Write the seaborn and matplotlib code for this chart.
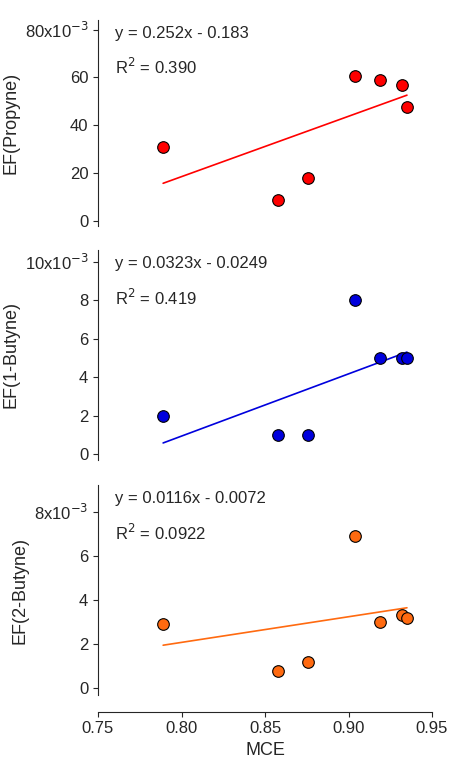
import numpy as np
import seaborn as sns
import matplotlib.pyplot as plt

sns.set_style("ticks")
plt.rcParams['font.family'] = ['Liberation Sans', 'DejaVu Sans']

mce = [0.789, 0.858, 0.876, 0.904, 0.919, 0.932, 0.935]
ef_propyne = [31, 9, 18, 60.5, 59, 57, 47.5]
ef_1butyne = [2, 1, 1, 8, 5, 5, 5]
ef_2butyne = [2.9, 0.8, 1.2, 6.9, 3.0, 3.3, 3.2]
labels = ["EF(Propyne)", "EF(1-Butyne)", "EF(2-Butyne)"]
slopes = [0.252, 0.0323, 0.0116]
intercepts = [-0.183, -0.0249, -0.0072]
eq_text = ["y = 0.252x - 0.183", "y = 0.0323x - 0.0249", "y = 0.0116x - 0.0072"]
r2_text = ["0.390", "0.419", "0.0922"]
colors = ["#ff0000", "#0000dd", "#ff6a10"]
yticks = [[0, 20, 40, 60, 80], [0, 2, 4, 6, 8, 10], [0, 2, 4, 6, 8]]
ylims = [(-2, 84), (-0.3, 10.6), (-0.3, 9.2)]

fig = plt.figure(figsize=(4.49, 7.66), dpi=100)
tops = [20, 250, 485]
bots = [226, 460, 695]
W, H = 449, 766
series = [ef_propyne, ef_1butyne, ef_2butyne]
for i in range(3):
    ax = fig.add_axes([98 / W, 1 - bots[i] / H, (432 - 98) / W, (bots[i] - tops[i]) / H])
    sns.scatterplot(x=mce, y=series[i], ax=ax, color=colors[i], s=70,
                    edgecolor="black", linewidth=0.8, zorder=3, clip_on=False)
    xl = np.array([min(mce), max(mce)])
    ax.plot(xl, (slopes[i] * xl + intercepts[i]) * 1000, color=colors[i], lw=1.2)
    ax.set_xlim(0.75, 0.95)
    ax.set_ylim(*ylims[i])
    ax.set_yticks(yticks[i])
    tl = [str(t) for t in yticks[i]]
    tl[-1] = f"{yticks[i][-1]}x10$^{{-3}}$"
    ax.set_yticklabels(tl, fontsize=12)
    ax.set_ylabel(labels[i], fontsize=13)
    ax.spines["top"].set_visible(False)
    ax.spines["right"].set_visible(False)
    ax.text(0.05, 0.97, eq_text[i], transform=ax.transAxes, fontsize=12, va="top")
    ax.text(0.05, 0.82, f"R$^2$ = {r2_text[i]}", transform=ax.transAxes, fontsize=12, va="top")
    if i < 2:
        ax.spines["bottom"].set_visible(False)
        ax.set_xticks([])
    else:
        ax.spines["bottom"].set_position(("outward", 12))
        ax.set_xticks([0.75, 0.80, 0.85, 0.90, 0.95])
        ax.set_xticklabels(["0.75", "0.80", "0.85", "0.90", "0.95"], fontsize=12)
        ax.set_xlabel("MCE", fontsize=13)

fig.savefig("out.png", dpi=100)
